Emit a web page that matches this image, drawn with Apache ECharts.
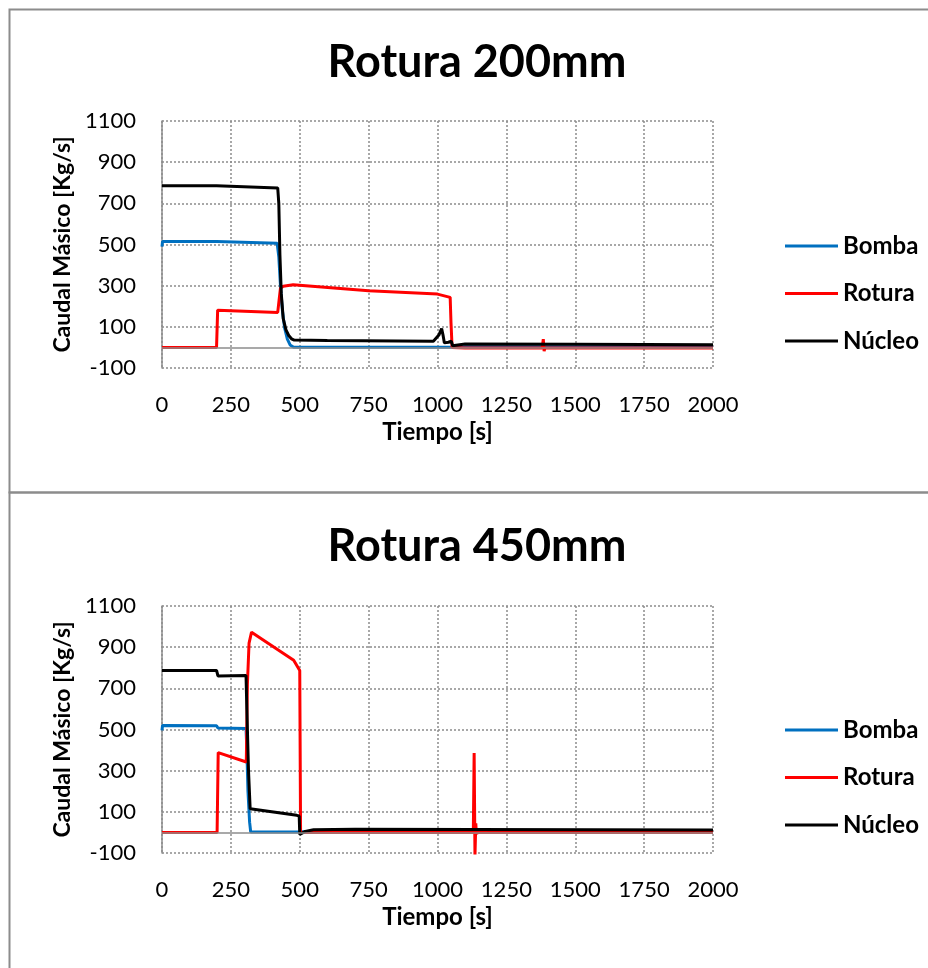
<!DOCTYPE html>
<html>
<head>
<meta charset="utf-8">
<script src="https://cdn.jsdelivr.net/npm/echarts@6/dist/echarts.min.js"></script>
<style>
html,body{margin:0;padding:0;background:#fff;}
#c{width:928px;height:968px;}
</style>
</head>
<body>
<div id="c"></div>
<script>
// ---- Tick labels / axis settings (data) ----
var titles = ['Rotura 200mm', 'Rotura 450mm'];
var seriesNames = ['Bomba', 'Rotura', 'Núcleo'];
var xTicks = [0, 250, 500, 750, 1000, 1250, 1500, 1750, 2000];
var yTicks = [-100, 100, 300, 500, 700, 900, 1100];

// ---- Rotura 200mm ----
var t200Bomba = [0, 2, 198, 203, 418, 424, 430, 437, 445, 455, 465, 478, 1045, 1050, 1056, 1100, 2000];
var v200Bomba = [490, 515, 514, 509, 506, 440, 300, 180, 95, 40, 12, 1, 1, -5, 2, 3, 3];

var t200Rotura = [0, 198, 202, 420, 425, 430, 440, 476, 750, 1000, 1046, 1049, 1053, 1100, 1380, 1384, 1387, 1390, 1395, 2000];
var v200Rotura = [0, 0, 181, 170, 230, 288, 297, 304, 275, 259, 243, 120, 0, -3, -3, 40, -18, -3, -3, -3];

var t200Nucleo = [0, 198, 202, 205, 420, 424, 428, 433, 440, 450, 460, 470, 480, 600, 985, 1005, 1015, 1020, 1025, 1040, 1050, 1055, 1062, 1100, 1500, 2000];
var v200Nucleo = [785, 785, 778, 776, 775, 700, 450, 260, 140, 85, 58, 42, 36, 34, 30, 60, 92, 60, 22, 25, 30, 8, 5, 17, 15, 13];

// ---- Rotura 450mm ----
var t450Bomba = [0, 2, 198, 203, 305, 308, 312, 318, 322, 500, 504, 510, 2000];
var v450Bomba = [496, 520, 518, 507, 505, 400, 200, 50, 2, 2, -5, 3, 3];

var t450Rotura = [0, 200, 204, 306, 310, 316, 325, 478, 500, 503, 510, 1130, 1133, 1136, 1139, 1141, 1150, 2000];
var v450Rotura = [0, 0, 388, 342, 720, 920, 973, 836, 787, 0, 3, 0, 386, -115, 44, -5, 0, 0];

var t450Nucleo = [0, 198, 203, 305, 308, 314, 320, 325, 489, 498, 500, 505, 520, 550, 700, 2000];
var v450Nucleo = [787, 787, 760, 762, 600, 300, 115, 106, 83, 80, -10, -14, 5, 13, 15, 12];

var colors = ['#0070C0', '#FF0000', '#000000'];

function zip(t, v) { return t.map(function (x, i) { return [x, v[i]]; }); }

var data = [
  [zip(t200Bomba, v200Bomba), zip(t200Rotura, v200Rotura), zip(t200Nucleo, v200Nucleo)],
  [zip(t450Bomba, v450Bomba), zip(t450Rotura, v450Rotura), zip(t450Nucleo, v450Nucleo)]
];

var FONT = 'Lato, "Open Sans", sans-serif';
var gridTops = [121, 606];
var gridH = 247;
var titleTops = [35, 519];
var legendTops = [229, 713];
function plain(v) { return String(v); }

var option = {
  animation: false,
  backgroundColor: '#ffffff',
  title: titles.map(function (t, i) {
    return {
      text: t, left: 472, top: titleTops[i], textAlign: 'center',
      textStyle: { fontFamily: FONT, fontWeight: 'bold', fontSize: 45, color: '#000' }
    };
  }),
  legend: [0, 1].map(function (i) {
    return {
      data: seriesNames, orient: 'vertical', left: 780, top: legendTops[i],
      icon: 'rect', itemWidth: 53, itemHeight: 3, itemGap: 23.5,
      textStyle: { fontFamily: FONT, fontWeight: 'bold', fontSize: 24, color: '#000', lineHeight: 24 },
      selectedMode: false
    };
  }),
  grid: [0, 1].map(function (i) {
    return { left: 162, top: gridTops[i], width: 551, height: gridH, containLabel: false };
  }),
  xAxis: [0, 1].map(function (i) {
    return {
      type: 'value', gridIndex: i, min: xTicks[0], max: xTicks[xTicks.length - 1], interval: 250,
      name: 'Tiempo [s]', nameLocation: 'middle', nameGap: 52,
      nameTextStyle: { fontFamily: FONT, fontWeight: 'bold', fontSize: 24, color: '#000' },
      axisLine: { show: false }, axisTick: { show: false },
      axisLabel: { fontFamily: FONT, fontSize: 22, color: '#000', margin: 26, formatter: plain },
      splitLine: { show: true, lineStyle: { color: '#8c8c8c', type: [2, 2], width: 1.5 } }
    };
  }),
  yAxis: [0, 1].map(function (i) {
    return {
      type: 'value', gridIndex: i, min: yTicks[0], max: yTicks[yTicks.length - 1], interval: 200,
      name: 'Caudal Másico [Kg/s]', nameLocation: 'middle', nameGap: 87,
      nameTextStyle: { fontFamily: FONT, fontWeight: 'bold', fontSize: 23, color: '#000' },
      axisLine: { show: true, lineStyle: { color: '#8c8c8c', width: 1.5 } },
      axisTick: { show: false },
      axisLabel: { fontFamily: FONT, fontSize: 22, color: '#000', margin: 26, formatter: plain },
      splitLine: { show: true, lineStyle: { color: '#8c8c8c', type: [2, 2], width: 1.5 } }
    };
  }),
  graphic: [
    { type: 'rect', shape: { x: 9.5, y: 9.5, width: 1000, height: 483 }, style: { fill: 'none', stroke: '#8c8c8c', lineWidth: 2 }, z: -10, silent: true },
    { type: 'rect', shape: { x: 9.5, y: 492.5, width: 1000, height: 600 }, style: { fill: 'none', stroke: '#8c8c8c', lineWidth: 2 }, z: -10, silent: true }
  ],
  series: []
};

[0, 1].forEach(function (g) {
  option.series.push({
    type: 'line', name: 'zero' + g, xAxisIndex: g, yAxisIndex: g, data: [], z: 1, silent: true,
    markLine: {
      silent: true, symbol: ['none', 'none'], label: { show: false },
      lineStyle: { color: '#8c8c8c', type: 'solid', width: 1.5 },
      data: [{ yAxis: 0 }], animation: false
    }
  });
  seriesNames.forEach(function (n, k) {
    option.series.push({
      type: 'line', name: n, xAxisIndex: g, yAxisIndex: g, data: data[g][k],
      showSymbol: false, symbol: 'none', clip: true, z: 2 + k,
      lineStyle: { color: colors[k], width: 3 }, itemStyle: { color: colors[k] }
    });
  });
});

var chart = echarts.init(document.getElementById('c'), null, { renderer: 'canvas' });
chart.setOption(option);
</script>
</body>
</html>
